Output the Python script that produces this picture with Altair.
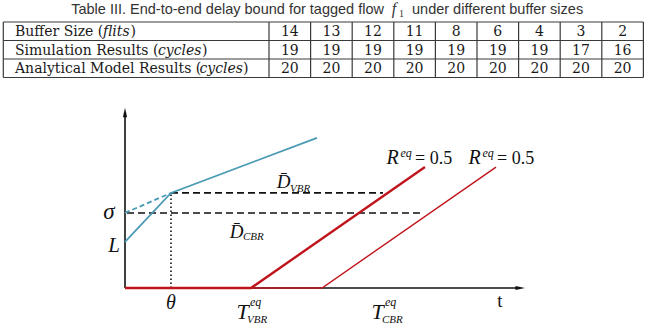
import altair as alt
import pandas as pd

# ---------------- table values ----------------
buffer_sizes = [14, 13, 12, 11, 8, 6, 4, 3, 2]
simulation_cycles = [19, 19, 19, 19, 19, 19, 19, 17, 16]
analytical_cycles = [20, 20, 20, 20, 20, 20, 20, 20, 20]
row_names = ["Buffer Size (", "Simulation Results (", "Analytical Model Results ("]
row_units = ["flits", "cycles", "cycles"]

# ---------------- delay-bound sketch (arbitrary units) ----------------
THETA = 1.15          # knee of the VBR arrival curve
L_VAL = 0.83          # burst L
SIGMA = 1.35          # intercept sigma
D_VBR_LEVEL = 1.71    # level of the VBR delay bound
vbr_arrival_u = [0.0, THETA, 4.8]
vbr_arrival_v = [L_VAL, D_VBR_LEVEL, 2.70]
R_EQ = 0.5
service_names = ["VBR", "CBR"]
service_latency = [3.15, 4.925]
SERVICE_RUN = 4.35
dash_vbr_u = [THETA, 6.45]
dash_cbr_u = [0.05, 7.425]
AXIS_X_END = 10.0
AXIS_Y_END = 3.24

# ---------------- layout ----------------
W, H = 648, 336
ORIGIN_X, ORIGIN_Y = 125, 288
X_PX, Y_PX = 40.0, 55.6
TL, TT = 3.3, 22.0
ROW_H = 18.5
LABEL_W = 265.7
COL_W = 41.6
TR = TL + LABEL_W + COL_W * len(buffer_sizes)
TB = TT + ROW_H * 3

BLUE = "#4a9ab5"
RED = "#c0141c"
INK = "#111111"
SERIF = "Liberation Serif"
TABLE_FONT = "DejaVu Serif"

px_x = alt.Scale(domain=[0, W], nice=False, zero=False)
px_y = alt.Scale(domain=[0, H], reverse=True, nice=False, zero=False)
u_scale = alt.Scale(domain=[-ORIGIN_X / X_PX, (W - ORIGIN_X) / X_PX], nice=False, zero=False)
v_scale = alt.Scale(domain=[-(H - ORIGIN_Y) / Y_PX, ORIGIN_Y / Y_PX], nice=False, zero=False)


def PX(f):
    return alt.X(f"{f}:Q", scale=px_x, axis=None)


def PY(f):
    return alt.Y(f"{f}:Q", scale=px_y, axis=None)


def U(f="u"):
    return alt.X(f"{f}:Q", scale=u_scale, axis=None)


def V(f="v"):
    return alt.Y(f"{f}:Q", scale=v_scale, axis=None)


layers = []

# ---------- caption ----------
def caption(x, y, text, size, font, style="normal", align="left", color="#333333"):
    df = pd.DataFrame({"x": [x], "y": [y], "t": [text]})
    return alt.Chart(df).mark_text(
        align=align, baseline="alphabetic", fontSize=size, font=font,
        fontStyle=style, color=color
    ).encode(x=PX("x"), y=PY("y"), text="t:N")


layers.append(caption(384, 13.5, "Table III. End-to-end delay bound for tagged flow", 14.5,
                      "Liberation Sans", align="right"))
layers.append(caption(394, 14, "f", 16, SERIF, style="italic", align="center"))
layers.append(caption(401.5, 16.5, "1", 10, SERIF, align="center"))
layers.append(caption(412, 13.5, "under different buffer sizes", 14.5, "Liberation Sans"))

# ---------- table grid ----------
n_cols = len(buffer_sizes)
h_lines = pd.DataFrame({"x": TL, "x2": TR, "y": [TT + r * ROW_H for r in range(4)]})
v_pos = [TL] + [TL + LABEL_W + c * COL_W for c in range(n_cols + 1)]
v_lines = pd.DataFrame({"x": v_pos, "y": TT, "y2": TB})
layers.append(alt.Chart(h_lines).mark_rule(color="#3a3a3a", strokeWidth=1.2).encode(
    x=PX("x"), x2="x2:Q", y=PY("y")))
layers.append(alt.Chart(v_lines).mark_rule(color="#3a3a3a", strokeWidth=1.2).encode(
    x=PX("x"), y=PY("y"), y2="y2:Q"))

# ---------- table cells ----------
rows = [buffer_sizes, simulation_cycles, analytical_cycles]
cells = []
for r, vals in enumerate(rows):
    for c, val in enumerate(vals):
        cells.append({"x": TL + LABEL_W + (c + 0.5) * COL_W,
                      "y": TT + (r + 0.5) * ROW_H + 5, "t": str(val)})
layers.append(alt.Chart(pd.DataFrame(cells)).mark_text(
    align="center", baseline="alphabetic", fontSize=14, font=TABLE_FONT, color="#1a1a1a"
).encode(x=PX("x"), y=PY("y"), text="t:N"))

unit_x = [103.0, 158.0, 199.5]
paren_x = [130.5, 202.0, 243.0]
label_rows = pd.DataFrame({
    "x": TL + 11.7, "y": [TT + (r + 0.5) * ROW_H + 5 for r in range(3)], "t": row_names})
unit_rows = pd.DataFrame({
    "x": unit_x, "y": [TT + (r + 0.5) * ROW_H + 5 for r in range(3)], "t": row_units})
paren_rows = pd.DataFrame({
    "x": paren_x, "y": [TT + (r + 0.5) * ROW_H + 5 for r in range(3)], "t": [")"] * 3})
for df, st in [(label_rows, "normal"), (unit_rows, "italic"), (paren_rows, "normal")]:
    layers.append(alt.Chart(df).mark_text(
        align="left", baseline="alphabetic", fontSize=14, font=TABLE_FONT,
        fontStyle=st, color="#1a1a1a"
    ).encode(x=PX("x"), y=PY("y"), text="t:N"))

# ---------- sketch: axes ----------
layers.append(alt.Chart(pd.DataFrame({"u": [0.0, 0.0], "v": [0.0, AXIS_Y_END - 0.12]}))
              .mark_line(color=INK, strokeWidth=1.6).encode(x=U(), y=V()))
layers.append(alt.Chart(pd.DataFrame({"u": [0.0, AXIS_X_END - 0.12], "v": [0.0, 0.0]}))
              .mark_line(color=INK, strokeWidth=1.6).encode(x=U(), y=V()))
layers.append(alt.Chart(pd.DataFrame({"u": [0.0], "v": [AXIS_Y_END]})).mark_point(
    shape="M0,-1L0.42,0.9L-0.42,0.9Z", size=100, filled=True, color=INK, opacity=1,
    strokeWidth=0, yOffset=5).encode(x=U(), y=V()))
layers.append(alt.Chart(pd.DataFrame({"u": [AXIS_X_END], "v": [0.0]})).mark_point(
    shape="M1,0L-0.9,0.42L-0.9,-0.42Z", size=100, filled=True, color=INK, opacity=1,
    strokeWidth=0, xOffset=-5).encode(x=U(), y=V()))

# ---------- sketch: dashed delay levels and theta marker ----------
dash = pd.DataFrame({
    "u": [dash_vbr_u[0], dash_vbr_u[1], dash_cbr_u[0], dash_cbr_u[1]],
    "v": [D_VBR_LEVEL, D_VBR_LEVEL, SIGMA, SIGMA],
    "g": ["vbr", "vbr", "cbr", "cbr"], "i": [0, 1, 0, 1]})
layers.append(alt.Chart(dash).mark_line(color=INK, strokeWidth=1.6, strokeDash=[7, 4]).encode(
    x=U(), y=V(), detail="g:N", order="i:Q"))
layers.append(alt.Chart(pd.DataFrame({"u": [THETA, THETA], "v": [0.0, D_VBR_LEVEL]}))
              .mark_line(color=INK, strokeWidth=1.6, strokeDash=[1.6, 2.4]).encode(x=U(), y=V()))

# ---------- sketch: service curves ----------
widths = {"VBR": 2.4, "CBR": 1.4}
for name, T in zip(service_names[::-1], service_latency[::-1]):
    df = pd.DataFrame({"u": [0.0, T, T + SERVICE_RUN],
                       "v": [0.0, 0.0, R_EQ * SERVICE_RUN], "i": [0, 1, 2]})
    layers.append(alt.Chart(df).mark_line(color=RED, strokeWidth=widths[name]).encode(
        x=U(), y=V(), order="i:Q"))

# ---------- sketch: VBR arrival curve ----------
layers.append(alt.Chart(pd.DataFrame({"u": [0.0, THETA], "v": [SIGMA, D_VBR_LEVEL]}))
              .mark_line(color=BLUE, strokeWidth=1.8, strokeDash=[5, 3]).encode(x=U(), y=V()))
layers.append(alt.Chart(pd.DataFrame({"u": vbr_arrival_u, "v": vbr_arrival_v, "i": [0, 1, 2]}))
              .mark_line(color=BLUE, strokeWidth=1.8).encode(x=U(), y=V(), order="i:Q"))


# ---------- sketch: labels ----------
def label(u, v, text, dx, dy, size, style="italic", align="left", font=SERIF):
    df = pd.DataFrame({"u": [u], "v": [v], "t": [text]})
    return alt.Chart(df).mark_text(
        align=align, baseline="alphabetic", dx=dx, dy=dy, fontSize=size, font=font,
        fontStyle=style, color=INK
    ).encode(x=U(), y=V(), text="t:N")


layers.append(label(0, SIGMA, "σ", -16, 6, 23, align="center"))
layers.append(label(0, L_VAL, "L", -11, 10, 21, align="center"))
layers.append(label(THETA, 0, "θ", 0, 21, 20, align="center"))
layers.append(label(AXIS_X_END, 0, "t", -25, 19, 19, style="normal", align="center"))

t_offsets = {"VBR": 0.0, "CBR": 64.0}
for name, T in zip(service_names, service_latency):
    off = t_offsets[name]
    layers.append(label(T, 0, "T", -8.5 + off, 31, 22, align="center"))
    layers.append(label(T, 0, "eq", -1 + off, 18, 12))
    layers.append(label(T, 0, name, -4 + off, 35, 11))

r_offsets = {"VBR": 0.0, "CBR": 11.0}
for name, T in zip(service_names, service_latency):
    off = r_offsets[name]
    ue, ve = T + SERVICE_RUN, R_EQ * SERVICE_RUN
    layers.append(label(ue, ve, "R", -32.5 + off, -3, 20, align="center"))
    layers.append(label(ue, ve, "eq", -24.5 + off, -10, 12))
    layers.append(label(ue, ve, f"= {R_EQ}", -10 + off, -3, 18, style="normal"))

mid_vbr = sum(dash_vbr_u) / 2
mid_cbr = sum(dash_cbr_u) / 2
layers.append(label(mid_vbr, D_VBR_LEVEL, "D\u0304", 6.5, -5, 19, align="center"))
layers.append(label(mid_vbr, D_VBR_LEVEL, "VBR", 13, -1, 11))
layers.append(label(mid_cbr, SIGMA, "D\u0304", -38, 25, 19, align="center"))
layers.append(label(mid_cbr, SIGMA, "CBR", -31.5, 27, 11))

chart = alt.layer(*layers).resolve_scale(x="independent", y="independent").properties(
    width=W, height=H, padding=0, autosize=alt.AutoSizeParams(type="none"),
    background="white"
).configure_view(stroke=None)

chart.save("out.html", embed_options={"renderer": "svg", "actions": False})
